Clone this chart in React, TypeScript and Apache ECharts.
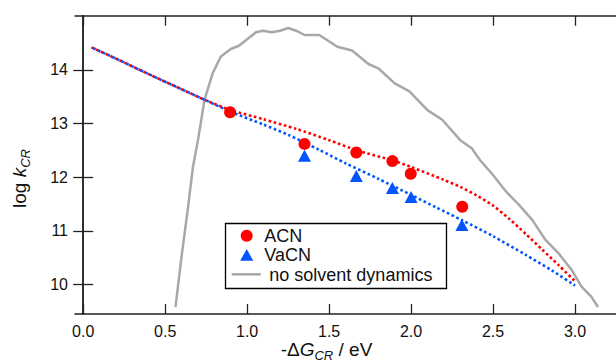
import React, { useEffect, useRef } from "react";
import * as echarts from "echarts";

// ---- data ----
const xTicks = [0, 0.5, 1.0, 1.5, 2.0, 2.5, 3.0];
const yTicks = [10, 11, 12, 13, 14];

const acnX = [0.896, 1.35, 1.666, 1.886, 1.998, 2.312];
const acnY = [13.21, 12.62, 12.46, 12.3, 12.065, 11.45];

const vacnX = [1.35, 1.666, 1.886, 2.0, 2.31];
const vacnY = [12.4, 12.02, 11.8, 11.63, 11.11];

const acnFitX = [0.05, 0.2, 0.4, 0.6, 0.75, 0.9, 1.1, 1.3, 1.5, 1.67, 1.89, 2.0, 2.2, 2.3, 2.4, 2.5, 2.6, 2.7, 2.8, 2.9, 3.0];
const acnFitY = [14.42, 14.21, 13.92, 13.64, 13.43, 13.25, 13.08, 12.9, 12.69, 12.5, 12.31, 12.19, 11.95, 11.82, 11.66, 11.47, 11.22, 10.94, 10.65, 10.36, 10.06];

const vacnFitX = [0.05, 0.2, 0.4, 0.6, 0.75, 0.9, 1.1, 1.25, 1.44, 1.6, 1.8, 2.0, 2.15, 2.31, 2.5, 2.7, 2.86, 3.0];
const vacnFitY = [14.42, 14.21, 13.92, 13.64, 13.43, 13.22, 12.98, 12.79, 12.51, 12.26, 11.97, 11.67, 11.44, 11.2, 10.9, 10.55, 10.26, 9.98];

const noSolvX = [0.563, 0.6, 0.64, 0.67, 0.7, 0.74, 0.79, 0.84, 0.9, 0.95, 1.0, 1.054, 1.096, 1.15, 1.2, 1.25, 1.3, 1.35, 1.44, 1.55, 1.64, 1.74, 1.8, 1.9, 1.99, 2.1, 2.19, 2.3, 2.37, 2.42, 2.5, 2.58, 2.66, 2.74, 2.82, 2.9, 2.98, 3.04, 3.1, 3.14];
const noSolvY = [9.58, 10.52, 11.45, 12.2, 12.69, 13.44, 13.94, 14.25, 14.39, 14.45, 14.57, 14.7, 14.73, 14.7, 14.73, 14.78, 14.73, 14.65, 14.65, 14.43, 14.36, 14.11, 14.03, 13.75, 13.6, 13.25, 13.07, 12.69, 12.54, 12.32, 12.04, 11.73, 11.48, 11.2, 10.83, 10.58, 10.27, 9.96, 9.77, 9.58];

const seriesNames = ["ACN", "VaCN", "no solvent dynamics"];

const RED = "#ff0000";
const BLUE = "#0055ff";
const GRAY = "#a8a8a8";
const FONT = "Liberation Sans, Arial, sans-serif";

const zip = (xs: number[], ys: number[]) => xs.map((x, i) => [x, ys[i]]);

export default function App() {
  const ref = useRef<HTMLDivElement>(null);
  useEffect(() => {
    if (!ref.current) return;
    const chart = echarts.init(ref.current, null, { renderer: "svg" });
    const axisLine = { show: true, lineStyle: { color: "#222", width: 1.5 } };
    const tickX = { show: true, inside: true, length: 10, customValues: xTicks, lineStyle: { color: "#222", width: 1.3 } };
    const tickY = { show: true, inside: true, length: 10, customValues: yTicks, lineStyle: { color: "#222", width: 1.3 } };
    const rich = {
      n: { fontSize: 19, fontFamily: FONT, lineHeight: 22, verticalAlign: "top", fill: "#111" },
      i: { fontSize: 19, fontFamily: FONT, fontStyle: "italic", lineHeight: 22, verticalAlign: "top", fill: "#111" },
      s: { fontSize: 13, fontFamily: FONT, fontStyle: "italic", lineHeight: 13, padding: [9, 0, 0, 0], verticalAlign: "top", fill: "#111" },
    };
    chart.setOption({
      animation: false,
      grid: { left: 75, right: -9, top: 15.7, bottom: 49 },
      xAxis: [
        {
          type: "value", min: -0.05, max: 3.25, position: "bottom",
          axisLine, axisTick: tickX, splitLine: { show: false },
          axisLabel: { customValues: xTicks, margin: 9, color: "#111", fontSize: 16, fontFamily: FONT, formatter: (v: number) => v.toFixed(1) },
        },
        {
          type: "value", min: -0.05, max: 3.25, position: "top",
          axisLine, axisTick: tickX, splitLine: { show: false }, axisLabel: { show: false },
        },
      ],
      yAxis: [
        {
          type: "value", min: 9.45, max: 15.01, position: "left",
          axisLine, axisTick: tickY, splitLine: { show: false },
          axisLabel: { customValues: yTicks, margin: 7, color: "#111", fontSize: 16, fontFamily: FONT },
        },
        {
          type: "value", min: 9.45, max: 15.01, position: "right",
          axisLine, axisTick: tickY, splitLine: { show: false }, axisLabel: { show: false },
        },
      ],
      series: [
        {
          name: seriesNames[2], type: "line", data: zip(noSolvX, noSolvY), showSymbol: false,
          lineStyle: { color: GRAY, width: 2.5 }, z: 2,
        },
        {
          name: seriesNames[0] + " fit", type: "line", data: zip(acnFitX, acnFitY), showSymbol: false, smooth: 0.25,
          lineStyle: { color: RED, width: 2.6, type: [2.6, 2.6], cap: "butt" }, z: 3,
        },
        {
          name: seriesNames[1] + " fit", type: "line", data: zip(vacnFitX, vacnFitY), showSymbol: false, smooth: 0.25,
          lineStyle: { color: BLUE, width: 2.6, type: [2.6, 2.6], dashOffset: 2.6, cap: "butt" }, z: 4,
        },
        {
          name: seriesNames[0], type: "scatter", data: zip(acnX, acnY), symbol: "circle", symbolSize: 12,
          itemStyle: { color: RED, opacity: 1 }, z: 5,
        },
        {
          name: seriesNames[1], type: "scatter", data: zip(vacnX, vacnY), symbol: "triangle", symbolSize: [13, 12],
          itemStyle: { color: BLUE, opacity: 1 }, z: 5,
        },
      ],
      graphic: [
        {
          type: "rect", z: 100,
          shape: { x: 225.5, y: 223.5, width: 221, height: 65 },
          style: { fill: "#fff", stroke: "#000", lineWidth: 1.3 },
        },
        { type: "circle", z: 101, shape: { cx: 246.7, cy: 235.7, r: 6 }, style: { fill: RED } },
        {
          type: "polygon", z: 101,
          shape: { points: [[240.2, 260.7], [253.2, 260.7], [246.7, 249]] },
          style: { fill: BLUE },
        },
        { type: "line", z: 101, shape: { x1: 231.7, y1: 274.3, x2: 260.7, y2: 274.3 }, style: { stroke: GRAY, lineWidth: 2.5 } },
        {
          type: "text", z: 101, x: 264.3, y: 236,
          style: { text: seriesNames[0], fontSize: 18, fontFamily: FONT, fill: "#111", align: "left", verticalAlign: "middle" },
        },
        {
          type: "text", z: 101, x: 264.3, y: 255.3,
          style: { text: seriesNames[1], fontSize: 18, fontFamily: FONT, fill: "#111", align: "left", verticalAlign: "middle" },
        },
        {
          type: "text", z: 101, x: 269.3, y: 274.5,
          style: { text: seriesNames[2], fontSize: 18, fontFamily: FONT, fill: "#111", align: "left", verticalAlign: "middle" },
        },
        {
          type: "text", z: 101, x: 326.5, y: 351,
          style: { text: "{n|-Δ}{i|G}{s|CR}{n| / eV}", align: "center", verticalAlign: "middle", fill: "#111", rich },
        },
        {
          type: "text", z: 101, x: 21, y: 178.5, rotation: Math.PI / 2,
          style: { text: "{n|log }{i|k}{s|CR}", align: "center", verticalAlign: "middle", fill: "#111", rich },
        },
      ],
    });
    return () => chart.dispose();
  }, []);
  return (
    <div
      ref={ref}
      style={{ position: "fixed", left: 0, top: 0, width: 616, height: 363, background: "#fff" }}
    />
  );
}
